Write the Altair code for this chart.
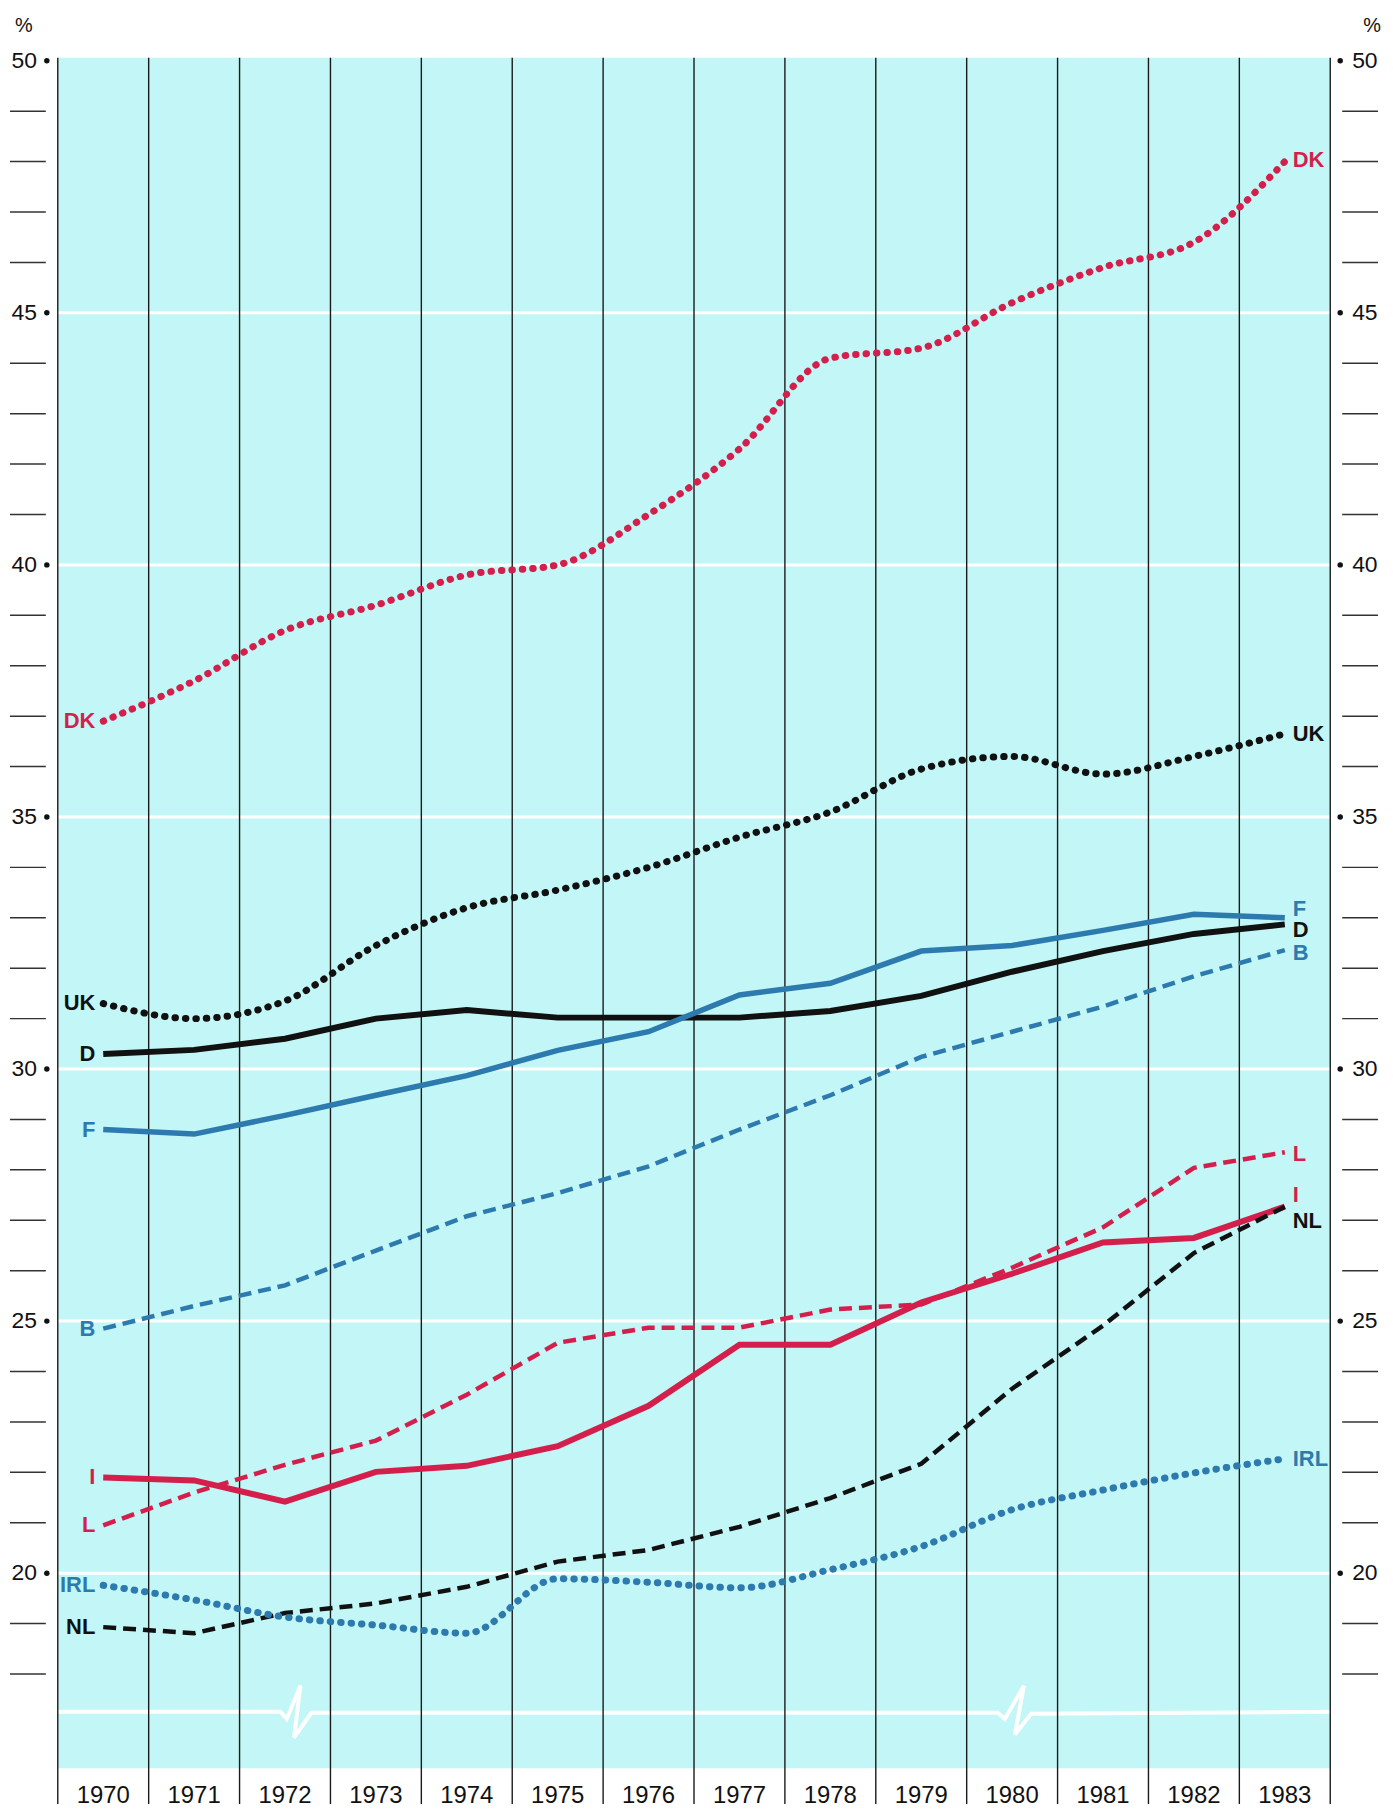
import altair as alt
import pandas as pd

# ---------------- data ----------------
years = list(range(1970, 1984))

DK  = [36.9, 37.7, 38.7, 39.2, 39.8, 40.0, 41.0, 42.3, 44.1, 44.3, 45.2, 45.9, 46.4, 48.0]
UK  = [31.3, 31.0, 31.35, 32.45, 33.2, 33.55, 34.0, 34.6, 35.1, 35.95, 36.2, 35.85, 36.2, 36.65]
D   = [30.3, 30.38, 30.6, 31.0, 31.17, 31.02, 31.02, 31.02, 31.15, 31.45, 31.93, 32.34, 32.68, 32.87]
F   = [28.8, 28.71, 29.08, 29.48, 29.87, 30.37, 30.74, 31.47, 31.7, 32.34, 32.45, 32.75, 33.07, 33.0]
B   = [24.85, 25.3, 25.71, 26.4, 27.08, 27.54, 28.07, 28.8, 29.48, 30.24, 30.74, 31.24, 31.84, 32.36]
L   = [20.95, 21.6, 22.15, 22.63, 23.54, 24.57, 24.87, 24.87, 25.23, 25.33, 26.06, 26.86, 28.04, 28.35]
I   = [21.9, 21.84, 21.42, 22.01, 22.13, 22.52, 23.32, 24.53, 24.53, 25.37, 25.94, 26.56, 26.65, 27.27]
NL  = [18.93, 18.81, 19.21, 19.4, 19.73, 20.23, 20.46, 20.92, 21.49, 22.17, 23.66, 24.91, 26.35, 27.27]
IRL = [19.76, 19.47, 19.13, 18.97, 18.81, 19.89, 19.82, 19.71, 20.07, 20.53, 21.26, 21.65, 21.99, 22.27]

series = {"DK": DK, "UK": UK, "D": D, "F": F, "B": B, "L": L, "I": I, "NL": NL, "IRL": IRL}

major_ticks = [20, 25, 30, 35, 40, 45, 50]
minor_ticks = [v for v in range(18, 50) if v % 5 != 0]
gridlines = [20, 25, 30, 35, 40, 45]
col_bounds = [y - 0.5 for y in years] + [years[-1] + 0.5]

# scale break line (white) with two zig-zags
break_x = [1969.5, 1971.95, 1972.02, 1972.17, 1972.10, 1972.29,
           1979.84, 1979.92, 1980.13, 1980.03, 1980.21, 1983.5]
break_y = [17.25, 17.25, 17.11, 17.77, 16.74, 17.23,
           17.23, 17.11, 17.77, 16.80, 17.21, 17.25]

PANEL_BOTTOM = 16.13
Y_MIN, Y_MAX = 15.42, 50.06
X_MIN, X_MAX = 1969.5, 1983.5

# ---------------- styles ----------------
RED = "#d41f4c"
BLUE = "#2d7aae"
BLACK = "#111111"
CYAN = "#c3f6f6"
FONT = "Liberation Sans"
W, H = 1278, 1754

styles = {
    "DK": (RED, "dot"), "UK": (BLACK, "dot"), "IRL": (BLUE, "dot"),
    "D": (BLACK, "solid"), "F": (BLUE, "solid"), "I": (RED, "solid"),
    "B": (BLUE, "dash"), "L": (RED, "dash"), "NL": (BLACK, "dash"),
}
left_dy = {"DK": 0, "UK": 0, "D": 0, "F": 0, "B": 0, "I": 0, "L": 0, "IRL": 0, "NL": 0}
right_dy = {"DK": -2, "UK": 0, "F": -9, "D": 6, "B": 3, "L": 2, "I": -12, "NL": 14, "IRL": 0}

xs = alt.Scale(domain=[X_MIN, X_MAX], nice=False, zero=False)
ys = alt.Scale(domain=[Y_MIN, Y_MAX], nice=False, zero=False)


def X(f="x"):
    return alt.X(f"{f}:Q", scale=xs, axis=None)


def Y(f="y"):
    return alt.Y(f"{f}:Q", scale=ys, axis=None)


layers = []

# cyan panel
panel_df = pd.DataFrame({"x": [X_MIN], "x2": [X_MAX], "y": [PANEL_BOTTOM], "y2": [Y_MAX]})
layers.append(alt.Chart(panel_df).mark_rect(color=CYAN).encode(
    x=X("x"), x2="x2:Q", y=Y("y"), y2="y2:Q"))

# white gridlines
grid_df = pd.DataFrame({"y": gridlines})
layers.append(alt.Chart(grid_df).mark_rule(color="white", strokeWidth=3).encode(
    y=Y("y"), x=alt.value(0), x2=alt.value(W)))

# break line
brk_df = pd.DataFrame({"x": break_x, "y": break_y, "o": list(range(len(break_x)))})
layers.append(alt.Chart(brk_df).mark_line(color="white", strokeWidth=4, strokeJoin="miter").encode(
    x=X("x"), y=Y("y"), order="o:Q"))

# vertical column lines
vb_df = pd.DataFrame({"x": col_bounds})
layers.append(alt.Chart(vb_df).mark_rule(color="#1a1a1a", strokeWidth=1.4).encode(
    x=X("x"), y=alt.value(0), y2=alt.value(H)))

# data lines
for name, vals in series.items():
    color, st = styles[name]
    df = pd.DataFrame({"x": years, "y": vals})
    base = alt.Chart(df)
    if st == "dot":
        m = base.mark_line(color=color, strokeWidth=7, strokeDash=[0.5, 10],
                           strokeCap="round", interpolate="monotone")
    elif st == "dash":
        m = base.mark_line(color=color, strokeWidth=4.5, strokeDash=[13, 7], strokeCap="butt")
    else:
        m = base.mark_line(color=color, strokeWidth=6 if name != "F" else 5.5, strokeCap="butt")
    layers.append(m.encode(x=X("x"), y=Y("y")))

# series labels
for name, vals in series.items():
    color, st = styles[name]
    ldf = pd.DataFrame({"x": [years[0]], "y": [vals[0]], "t": [name]})
    layers.append(alt.Chart(ldf).mark_text(
        align="right", baseline="middle", dx=-8, dy=left_dy[name], font=FONT,
        fontSize=22, fontWeight="bold", color=color).encode(x=X("x"), y=Y("y"), text="t:N"))
    rdf = pd.DataFrame({"x": [years[-1]], "y": [vals[-1]], "t": [name]})
    layers.append(alt.Chart(rdf).mark_text(
        align="left", baseline="middle", dx=8, dy=right_dy[name], font=FONT,
        fontSize=22, fontWeight="bold", color=color).encode(x=X("x"), y=Y("y"), text="t:N"))

# year labels
yr_df = pd.DataFrame({"x": years, "t": [str(y) for y in years]})
layers.append(alt.Chart(yr_df).mark_text(
    align="center", baseline="alphabetic", font=FONT, fontSize=24, color="#111").encode(
    x=X("x"), y=alt.value(H - 1), text="t:N"))

# left / right axes (hand drawn)
minor_df = pd.DataFrame({"y": minor_ticks})
major_df = pd.DataFrame({"y": major_ticks, "t": [str(v) for v in major_ticks]})
layers.append(alt.Chart(minor_df).mark_rule(color="#333", strokeWidth=1.5).encode(
    y=Y("y"), x=alt.value(-48), x2=alt.value(-12)))
layers.append(alt.Chart(minor_df).mark_rule(color="#333", strokeWidth=1.5).encode(
    y=Y("y"), x=alt.value(W + 12), x2=alt.value(W + 48)))
layers.append(alt.Chart(major_df).mark_point(filled=True, shape="circle", size=30, color="#111", opacity=1).encode(
    y=Y("y"), x=alt.value(-11)))
layers.append(alt.Chart(major_df).mark_point(filled=True, shape="circle", size=30, color="#111", opacity=1).encode(
    y=Y("y"), x=alt.value(W + 10)))
layers.append(alt.Chart(major_df).mark_text(
    align="right", baseline="middle", font=FONT, fontSize=23, color="#111").encode(
    y=Y("y"), x=alt.value(-21), text="t:N"))
layers.append(alt.Chart(major_df).mark_text(
    align="left", baseline="middle", font=FONT, fontSize=23, color="#111").encode(
    y=Y("y"), x=alt.value(W + 22), text="t:N"))

pct_df = pd.DataFrame({"t": ["%"]})
layers.append(alt.Chart(pct_df).mark_text(
    align="center", baseline="middle", font=FONT, fontSize=20, color="#111").encode(
    x=alt.value(-34), y=alt.value(-32), text="t:N"))
layers.append(alt.Chart(pct_df).mark_text(
    align="center", baseline="middle", font=FONT, fontSize=20, color="#111").encode(
    x=alt.value(W + 42), y=alt.value(-32), text="t:N"))

chart = alt.layer(*layers).properties(
    width=W, height=H,
    padding={"left": 50, "top": 46, "right": 55, "bottom": 0},
    autosize=alt.AutoSizeParams(type="none"),
    background="white",
).configure_view(stroke=None)

chart.save("out.html", embed_options={"renderer": "svg", "actions": False})
